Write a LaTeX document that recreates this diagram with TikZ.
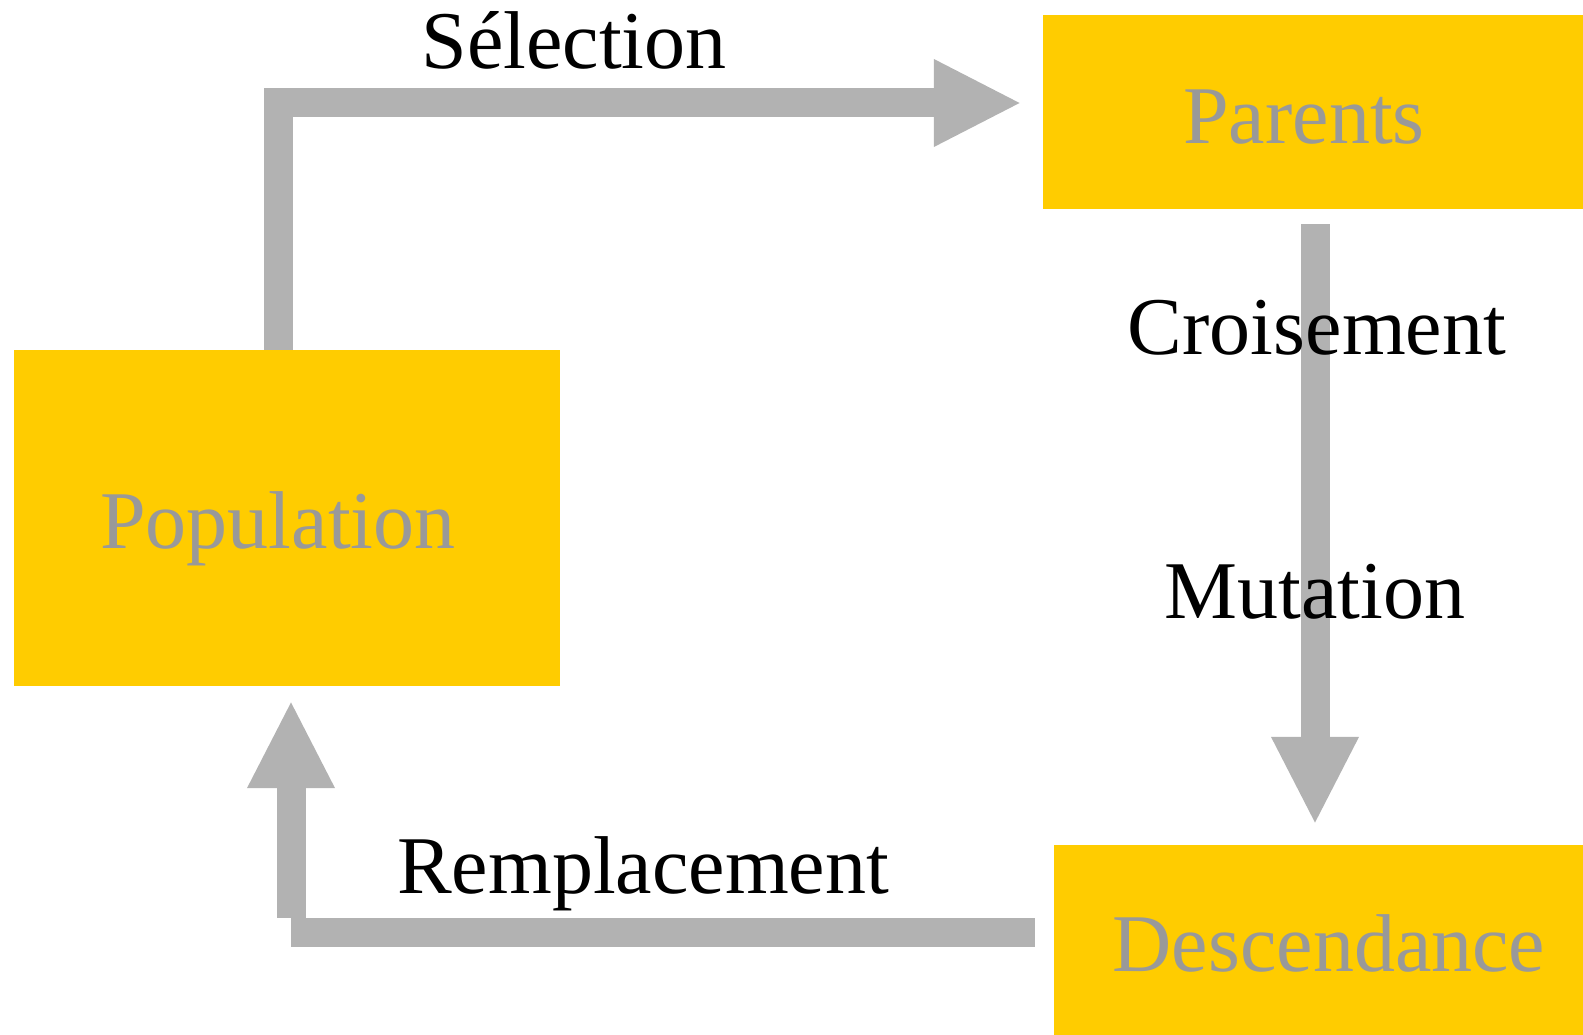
\documentclass[tikz,border=0pt]{standalone}
\usepackage{fontspec}
\setmainfont{Liberation Serif}
\usetikzlibrary{arrows.meta}
\definecolor{boxyellow}{HTML}{FFCC00}
\definecolor{bargray}{HTML}{B2B2B2}
\definecolor{boxtext}{HTML}{999999}
\tikzset{
  box/.style={fill=boxyellow, draw=none, inner sep=0pt, rectangle},
  boxlabel/.style={anchor=base, inner sep=0pt, text=boxtext,
                   font=\fontsize{82}{90}\selectfont},
  steplabel/.style={anchor=base, inner sep=0pt, text=black,
                    font=\fontsize{82}{90}\selectfont},
  bar/.style={draw=bargray, line width=29pt, line cap=butt, line join=miter},
  bararrow/.style={bar, -{Triangle[length=88pt,width=81pt]}, bargray},
}
\begin{document}
\begin{tikzpicture}[x=1pt, y=-1pt]
  \useasboundingbox (0,0) rectangle (1583,1035);

  % boxes
  \node[box, minimum width=546pt, minimum height=336pt] (pop)  at (287,518)    {};
  \node[box, minimum width=540pt, minimum height=194pt] (par)  at (1313,112)   {};
  \node[box, minimum width=529pt, minimum height=190pt] (desc) at (1318.5,940) {};

  % box titles
  \node[boxlabel] (poptxt)  at (278,548)  {Population};
  \node[boxlabel] (partxt)  at (1304,144) {Parents};
  \node[boxlabel] (desctxt) at (1329,971) {Descendance};

  % selection: population -> parents
  \draw[bararrow] ([xshift=-9pt]pop.north) |- ([xshift=-21pt,yshift=9pt]par.west);

  % crossover and mutation: parents -> offspring
  \draw[bararrow] ([xshift=2pt,yshift=-15pt]par.south) -- ([xshift=-3.5pt,yshift=20pt]desc.north);

  % replacement: offspring -> population
  \coordinate (rc) at (291,932);
  \draw[bar] ([xshift=-19pt,yshift=8pt]desc.west) -- (rc);
  \draw[bararrow] ([yshift=14.5pt]rc) -- ([xshift=4pt,yshift=-14pt]pop.south);

  % step labels
  \node[steplabel] (sel)  at (574,69)  {Sélection};
  \node[steplabel] (cro)  at (1317,354) {Croisement};
  \node[steplabel] (mut)  at (1315,618) {Mutation};
  \node[steplabel] (rem)  at (643,893) {Remplacement};
\end{tikzpicture}
\end{document}
